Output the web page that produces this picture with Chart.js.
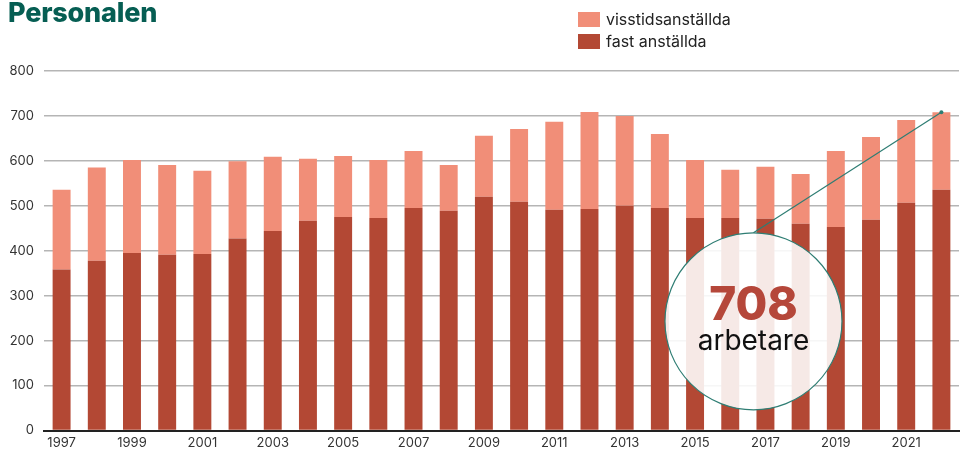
<!DOCTYPE html>
<html>
<head>
<meta charset="utf-8">
<script src="https://cdn.jsdelivr.net/npm/chart.js@4"></script>
<style>
  body { margin: 0; background: #fff; font-family: Inter, "Noto Sans", sans-serif; }
  #wrap { position: relative; width: 968px; height: 452px; }
  #title { position: absolute; left: 8px; top: -4px; font-size: 27px; font-weight: 800; color: #065e53; letter-spacing: -0.2px; }
  #legend { position: absolute; left: 578px; top: 8px; font-size: 16px; color: #222; }
  #legend div { display: flex; align-items: center; height: 22px; }
  #legend span.box { width: 22px; height: 15px; margin-right: 6px; display: inline-block; }
</style>
</head>
<body>
<div id="wrap">
  <canvas id="personalChart" width="968" height="452"></canvas>
  <div id="title">Personalen</div>
  <div id="legend"></div>
</div>
<script>
// Personalen, 1997-2022
const years = ['1997','1998','1999','2000','2001','2002','2003','2004','2005','2006','2007','2008','2009',
               '2010','2011','2012','2013','2014','2015','2016','2017','2018','2019','2020','2021','2022'];
const fastAnstallda = [358, 378, 395, 391, 393, 427, 444, 467, 475, 473, 495, 489, 520,
                       509, 491, 493, 500, 495, 473, 473, 471, 460, 453, 469, 507, 536];
const visstidsAnstallda = [178, 207, 207, 200, 185, 172, 165, 138, 136, 129, 127, 102, 136,
                           162, 196, 216, 200, 165, 129, 107, 116, 111, 169, 184, 184, 172];
const yTicks = [0, 100, 200, 300, 400, 500, 600, 700, 800];

const colFast = '#b34834';
const colVisstid = '#f18e78';
const teal = '#2e7d73';

// html legend (visstids on top)
const legendItems = [['visstidsanställda', colVisstid], ['fast anställda', colFast]];
document.getElementById('legend').innerHTML = legendItems
  .map(([txt, c]) => `<div><span class="box" style="background:${c}"></span>${txt}</div>`).join('');

// circle callout pointing at the last bar
const calloutPlugin = {
  id: 'callout',
  afterDatasetsDraw(chart) {
    const { ctx, scales: { x, y } } = chart;
    const last = years.length - 1;
    const total = fastAnstallda[last] + visstidsAnstallda[last];
    const cx = x.getPixelForValue(19.66);
    const cy = y.getPixelForValue(243);
    const r = 88.5;
    const tx = x.getPixelForValue(last);
    const ty = y.getPixelForValue(total);

    ctx.save();
    ctx.beginPath();
    ctx.arc(cx, cy, r, 0, Math.PI * 2);
    ctx.fillStyle = 'rgba(255,255,255,0.88)';
    ctx.fill();
    ctx.lineWidth = 1.2;
    ctx.strokeStyle = teal;
    ctx.stroke();

    ctx.beginPath();
    ctx.moveTo(cx, cy - r);
    ctx.lineTo(tx, ty);
    ctx.stroke();
    ctx.beginPath();
    ctx.arc(tx, ty, 2, 0, Math.PI * 2);
    ctx.fillStyle = teal;
    ctx.fill();

    ctx.textAlign = 'center';
    ctx.textBaseline = 'middle';
    ctx.fillStyle = '#b5473a';
    ctx.font = '800 46px Inter, "Noto Sans", sans-serif';
    ctx.fillText(String(total), cx, cy - 15);
    ctx.fillStyle = '#111';
    ctx.font = '400 28px Inter, "Noto Sans", sans-serif';
    ctx.fillText('arbetare', cx, cy + 20);
    ctx.restore();
  }
};

const ctx = document.getElementById('personalChart').getContext('2d');
const personalChart = new Chart(ctx, {
  type: 'bar',
  data: {
    labels: years,
    datasets: [{
      label: 'fast anställda',
      data: fastAnstallda,
      backgroundColor: colFast,
      barPercentage: 0.51,
      categoryPercentage: 1
    }, {
      label: 'visstidsanställda',
      data: visstidsAnstallda,
      backgroundColor: colVisstid,
      barPercentage: 0.51,
      categoryPercentage: 1
    }]
  },
  options: {
    responsive: false,
    animation: false,
    layout: { padding: { top: 71, right: 9, left: 0, bottom: 0 } },
    plugins: {
      legend: { display: false },
      tooltip: { enabled: false }
    },
    scales: {
      x: {
        stacked: true,
        grid: { display: false, drawTicks: false },
        border: { color: '#222', width: 2 },
        afterFit: axis => { axis.height = 21.5; },
        ticks: {
          autoSkip: false,
          maxRotation: 0,
          padding: 5,
          color: '#333',
          font: { family: 'Inter, "Noto Sans", sans-serif', size: 13 },
          callback: (v, i) => (i % 2 === 0 ? years[i] : '')
        }
      },
      y: {
        stacked: true,
        min: 0,
        max: 800,
        afterBuildTicks: axis => { axis.ticks = yTicks.map(v => ({ value: v })); },
        afterFit: axis => { axis.width = 44; },
        grid: { color: '#b5b5b5', lineWidth: 1.5, drawTicks: false },
        border: { display: false },
        ticks: {
          padding: 10,
          color: '#333',
          font: { family: 'Inter, "Noto Sans", sans-serif', size: 13 }
        }
      }
    }
  },
  plugins: [calloutPlugin]
});
</script>
</body>
</html>
